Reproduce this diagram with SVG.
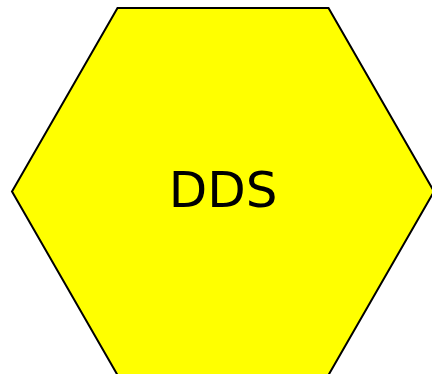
<svg xmlns="http://www.w3.org/2000/svg" width="432" height="374" viewBox="0 0 432 374">
<style>
.hex{fill:#ffff00;stroke:#000;stroke-width:2}
.lbl{font-family:"DejaVu Sans",sans-serif;font-size:50px;fill:#000;text-anchor:middle}
</style>
<rect width="432" height="374" fill="#fff"/>
<g id="node-dds">
<polygon class="hex" points="117.5,8 328.5,8 434,191.5 328.5,375 117.5,375 12,191.5"/>
<text class="lbl" x="223" y="207">DDS</text>
</g>
<g id="connectors"></g>
</svg>
